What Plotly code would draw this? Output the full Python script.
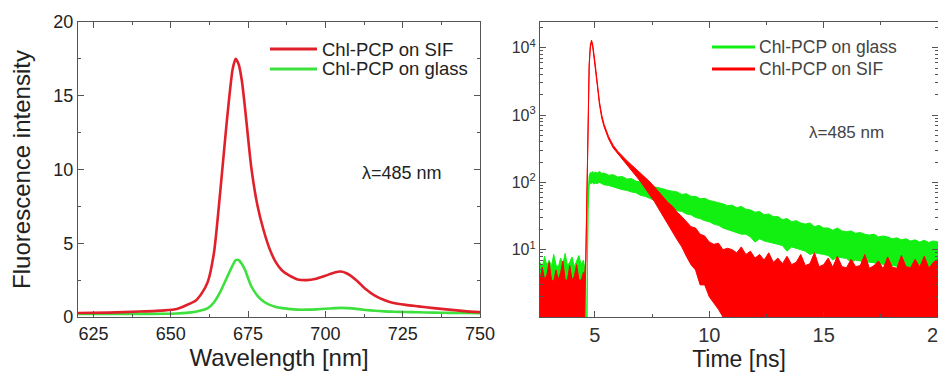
import plotly.graph_objects as go

# The page body has an 8 px margin, so the figure is drawn 8 px smaller and shifted.
OFF = 8
FW, FH = 946 - OFF, 379 - OFF

# ---------------- Left panel: emission spectra ----------------
wavelength = [620, 630, 640, 648, 652, 655, 658, 660, 662, 664, 666, 668, 670, 671, 672, 673,
              674, 676, 678, 680, 682, 684, 686, 688, 691, 694, 697, 700, 703, 705, 707, 710,
              713, 716, 719, 722, 726, 730, 735, 740, 745, 750]
spec_sif = [0.27, 0.3, 0.37, 0.45, 0.55, 0.8, 1.1, 1.6, 2.4, 4.4, 8.5, 13.0, 16.8, 17.5, 17.1, 16.0,
            14.2, 10.2, 7.6, 5.9, 4.6, 3.7, 3.15, 2.85, 2.55, 2.5, 2.6, 2.8, 3.02, 3.08, 2.95, 2.5,
            1.9, 1.45, 1.15, 0.95, 0.82, 0.72, 0.6, 0.5, 0.4, 0.33]
spec_glass = [0.2, 0.2, 0.21, 0.22, 0.24, 0.28, 0.36, 0.45, 0.6, 1.0, 1.7, 2.6, 3.5, 3.85, 3.85, 3.6,
              3.2, 2.1, 1.45, 1.05, 0.82, 0.68, 0.6, 0.55, 0.5, 0.5, 0.52, 0.56, 0.6, 0.62, 0.6, 0.55,
              0.48, 0.42, 0.38, 0.36, 0.34, 0.32, 0.3, 0.28, 0.27, 0.26]

# ---------------- Right panel: decay curves (upper / lower noise envelopes) ----------------
t_pre = [2.6, 2.7, 2.8, 2.9, 3.0, 3.1, 3.2, 3.3, 3.4, 3.5, 3.6, 3.7, 3.8, 3.9, 4.0, 4.1, 4.2, 4.3, 4.4, 4.5]
t_rise = [4.55, 4.6, 4.65, 4.7, 4.75, 4.8, 4.85, 4.9, 4.95, 5.0, 5.1, 5.2, 5.3]
t_early = [5.4, 5.6, 5.8, 6.0, 6.2, 6.4, 6.6, 6.8, 7.0, 7.2, 7.4, 7.6, 7.8, 8.0, 8.2, 8.4, 8.6, 8.8,
           9.0, 9.2, 9.4, 9.6, 9.8, 10.0, 10.2, 10.4, 10.6, 10.8]
t_late = [11.0, 11.2, 11.4, 11.6, 11.8, 12.0, 12.2, 12.4, 12.6, 12.8, 13.0, 13.2, 13.4, 13.6, 13.8,
          14.0, 14.2, 14.4, 14.6, 14.8, 15.0, 15.2, 15.4, 15.6, 15.8, 16.0, 16.2, 16.4, 16.6, 16.8,
          17.0, 17.2, 17.4, 17.6, 17.8, 18.0, 18.2, 18.4, 18.6, 18.8, 19.0, 19.2, 19.4, 19.6, 19.8, 20.0]

sif_hi_pre = [3.6, 5.5, 3.6, 4.2, 6.5, 3.6, 3.4, 5.0, 3.6, 4.5, 6.8, 3.6, 3.5, 5.8, 3.6, 4.0, 6.0, 3.6, 3.5, 4.6]
sif_lo_pre = [1] * 20
sif_hi_rise = [4.2, 7, 65, 950, 5800, 11000, 13000, 11500, 8900, 6300, 3150, 1580, 1000]
sif_lo_rise = [1, 5.5, 55, 850, 5200, 10000, 12000, 10500, 8100, 5700, 2850, 1420, 900]
sif_hi_early = [730, 480, 355, 290, 245, 210, 182, 158, 138, 118, 102, 86, 72, 62, 50, 44, 36, 31,
                26, 22, 21, 17, 16, 13, 12, 12.5, 10, 10.5]
sif_lo_early = [670, 440, 325, 260, 215, 180, 150, 124, 102, 82, 66, 52, 40, 31, 24, 18, 14, 11,
                8, 6, 5, 3, 3, 2, 1.6, 1.3, 1, 1]
sif_hi_late = [10, 9, 11, 8.5, 9.5, 7.5, 8.5, 7, 9, 6.5, 7.5, 6.2, 8, 6, 6.5, 8.5, 5.8, 6.2, 9, 5.6,
               6, 7.5, 5.5, 8, 5.6, 5.4, 7.2, 5.6, 5.8, 8.5, 5.3, 5.8, 6.8, 5.2, 7.8, 5.5, 5.3, 8.2,
               5.6, 5.4, 7.2, 5.5, 8, 5.3, 6.5, 7.2]
sif_lo_late = [1] * 46

glass_hi_pre = [6.5, 5.5, 8.0, 5.8, 7.0, 5.6, 8.5, 6.0, 5.5, 7.5, 6.2, 8.8, 5.8, 6.5, 7.8, 5.6, 6.8, 8.2, 6.0, 7.0]
glass_lo_pre = [1] * 20
glass_hi_rise = [5.5, 1, 1, 60, 125, 140, 138, 145, 135, 142, 138, 145, 136]
glass_lo_rise = [1, 1, 1, 40, 90, 98, 96, 100, 94, 98, 96, 100, 95]
glass_hi_early = [138, 128, 130, 120, 122, 112, 114, 104, 102, 94, 92, 86, 84, 80, 76, 74, 72, 66,
                  68, 62, 62, 57, 58, 54, 52, 50, 48, 45]
glass_lo_early = [92, 90, 85, 82, 78, 76, 72, 70, 64, 62, 58, 54, 50, 48, 44, 42, 38, 37, 34, 33,
                  30, 29, 27, 26, 24, 23, 21, 20]
glass_hi_late = [46, 42, 44, 40, 39, 36, 37, 33, 34, 31, 31, 28, 29, 26, 27, 25, 24, 25, 22, 23,
                 21, 21, 19.5, 21, 19, 18.5, 19, 17.5, 18, 17, 16.5, 17, 15.5, 16, 15.5, 14.5, 15,
                 14, 14.5, 13.5, 14, 13, 13.8, 12.8, 13.5, 13]
glass_lo_late = [19, 18, 17, 17, 15.5, 13, 14.5, 13.5, 13, 12.5, 12, 11.5, 9.5, 11, 10.5, 10, 9.5,
                 8.5, 9, 8.8, 8.5, 8.2, 7, 7.8, 7.6, 7.4, 6.5, 7, 6.8, 6.7, 6.5, 6.4, 6.2, 6.1, 6,
                 5.8, 5.7, 5.6, 5.5, 5.4, 5.3, 5.2, 5.2, 5.1, 5, 5]

time_ns = t_pre + t_rise + t_early + t_late
sif_hi = sif_hi_pre + sif_hi_rise + sif_hi_early + sif_hi_late
sif_lo = sif_lo_pre + sif_lo_rise + sif_lo_early + sif_lo_late
glass_hi = glass_hi_pre + glass_hi_rise + glass_hi_early + glass_hi_late
glass_lo = glass_lo_pre + glass_lo_rise + glass_lo_early + glass_lo_late

RED_L, GREEN_L = "#e0202a", "#3ee03e"
RED_R, GREEN_R = "#ff0000", "#11f011"

fig = go.Figure()

# left spectra
fig.add_trace(go.Scatter(x=wavelength, y=spec_glass, mode="lines", name="Chl-PCP on glass",
                         line=dict(color=GREEN_L, width=2.6, shape="spline", smoothing=0.6),
                         xaxis="x", yaxis="y"))
fig.add_trace(go.Scatter(x=wavelength, y=spec_sif, mode="lines", name="Chl-PCP on SIF",
                         line=dict(color=RED_L, width=2.6, shape="spline", smoothing=0.6),
                         xaxis="x", yaxis="y"))

# right decays as closed noise bands: green first (below), red on top
fig.add_trace(go.Scatter(x=time_ns + time_ns[::-1], y=glass_hi + glass_lo[::-1], mode="lines",
                         fill="toself", fillcolor=GREEN_R, line=dict(color=GREEN_R, width=1),
                         name="Chl-PCP on glass", xaxis="x2", yaxis="y2"))
fig.add_trace(go.Scatter(x=time_ns + time_ns[::-1], y=sif_hi + sif_lo[::-1], mode="lines",
                         fill="toself", fillcolor=RED_R, line=dict(color=RED_R, width=1),
                         name="Chl-PCP on SIF", xaxis="x2", yaxis="y2"))

AX = "#555555"
common = dict(showline=True, linecolor=AX, linewidth=1.2, mirror="ticks", ticks="inside",
              ticklen=6, tickwidth=1, tickcolor=AX, showgrid=False, zeroline=False,
              automargin=False)


def dx(x):
    return (x - OFF) / FW


def dy(y):
    return 1 - (y - OFF) / FH


fig.update_layout(
    width=FW, height=FH,
    margin=dict(l=0, r=0, t=0, b=0),
    paper_bgcolor="white", plot_bgcolor="white",
    showlegend=False,
    font=dict(family="Liberation Sans, Arial, sans-serif", color="#222"),
    xaxis=dict(domain=[dx(78), dx(480)], anchor="y", range=[620, 750], dtick=25, tick0=0,
               tickfont=dict(size=18, color="#222"),
               minor=dict(dtick=12.5, ticks="inside", ticklen=3, tickcolor=AX, showgrid=False),
               title=dict(text="Wavelength [nm]", font=dict(size=24, color="#222"), standoff=4),
               **common),
    yaxis=dict(domain=[dy(317), dy(22)], anchor="x", range=[0, 20], dtick=5,
               tickfont=dict(size=18, color="#222"),
               minor=dict(dtick=2.5, ticks="inside", ticklen=3, tickcolor=AX, showgrid=False),
               title=dict(text="Fluorescence intensity", font=dict(size=24, color="#222"), standoff=16),
               **common),
    xaxis2=dict(domain=[dx(540), dx(938)], anchor="y2", range=[2.6, 20], dtick=5, tick0=0,
                tickfont=dict(size=20, color="#333"), ticklabeloverflow="allow",
                minor=dict(dtick=2.5, ticks="inside", ticklen=3, tickcolor=AX, showgrid=False),
                title=dict(text="Time [ns]", font=dict(size=23, color="#222"), standoff=2),
                **common),
    yaxis2=dict(domain=[dy(317), dy(22)], anchor="x2", type="log", range=[0, 4.383],
                tickmode="array", tickvals=[10, 100, 1000, 10000],
                ticktext=["10<sup>1</sup>", "10<sup>2</sup>", "10<sup>3</sup>", "10<sup>4</sup>"],
                tickfont=dict(size=16, color="#333"),
                minor=dict(dtick="D1", ticks="inside", ticklen=3, tickcolor=AX, showgrid=False),
                **common),
)

shapes = []
annotations = []
legend_items = [
    (270, 317, 49, RED_L, "Chl-PCP on SIF", 320, 18.5, "#222"),
    (270, 317, 69, GREEN_L, "Chl-PCP on glass", 320, 18.5, "#222"),
    (712, 755, 47, GREEN_R, "Chl-PCP on glass", 757, 17.5, "#444"),
    (712, 755, 69, RED_R, "Chl-PCP on SIF", 757, 17.5, "#444"),
]
for x0, x1, yy, col, txt, tx, fs, tc in legend_items:
    shapes.append(dict(type="line", xref="paper", yref="paper", x0=dx(x0), x1=dx(x1),
                       y0=dy(yy), y1=dy(yy), line=dict(color=col, width=3)))
    annotations.append(dict(xref="paper", yref="paper", x=dx(tx), y=dy(yy), text=txt,
                            showarrow=False, xanchor="left", yanchor="middle",
                            font=dict(size=fs, color=tc)))

annotations.append(dict(xref="paper", yref="paper", x=dx(402), y=dy(173), text="λ=485 nm",
                        showarrow=False, xanchor="center", yanchor="middle",
                        font=dict(size=18, color="#222")))
annotations.append(dict(xref="paper", yref="paper", x=dx(846), y=dy(132), text="λ=485 nm",
                        showarrow=False, xanchor="center", yanchor="middle",
                        font=dict(size=17, color="#444")))

fig.update_layout(shapes=shapes, annotations=annotations)

fig.write_html("out.html")
